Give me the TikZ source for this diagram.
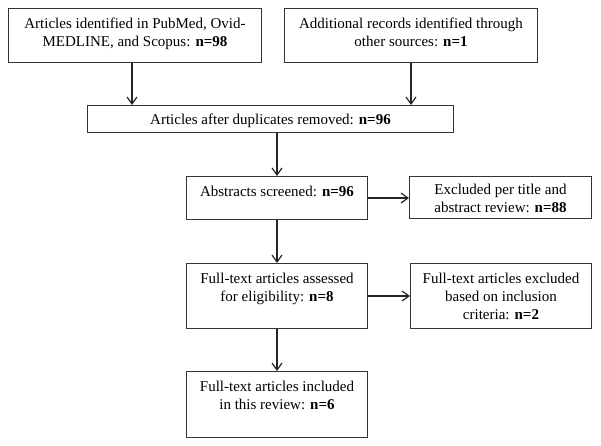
\documentclass[tikz,border=0pt]{standalone}
\usepackage{fontspec}
\setmainfont{Liberation Serif}
\usetikzlibrary{arrows.meta}
\begin{document}
\begin{tikzpicture}[x=1pt,y=-1pt,
  box/.style={draw=black!80, line width=1pt, anchor=north west, inner sep=0pt,
    text height=19.5pt, font=\fontsize{15}{18}\selectfont},
  arr/.style={-{Straight Barb[length=7pt,width=10pt]}, line width=1.2pt, draw=black!85}]
\useasboundingbox (0,0) rectangle (601,445);
\node[box, text depth=34.5pt] (b1) at (8,8)
  {\parbox[t]{253pt}{\centering Articles identified in PubMed, Ovid-\\MEDLINE, and Scopus: \textbf{n=98}}};
\node[box, text depth=34.5pt] (b2) at (284,8)
  {\parbox[t]{253pt}{\centering Additional records identified through\\other sources: \textbf{n=1}}};
\node[box, text height=18.5pt, text depth=8.5pt] (b3) at (87,105)
  {\parbox[t]{366pt}{\centering Articles after duplicates removed: \textbf{n=96}}};
\node[box, text depth=23.5pt] (b4) at (186,176)
  {\parbox[t]{181pt}{\centering Abstracts screened: \textbf{n=96}}};
\node[box, text height=18pt, text depth=24pt] (b5) at (409,176)
  {\parbox[t]{182pt}{\centering Excluded per title and\\abstract review: \textbf{n=88}}};
\node[box, text depth=45.5pt] (b6) at (186,263)
  {\parbox[t]{181pt}{\centering Full-text articles assessed\\for eligibility: \textbf{n=8}}};
\node[box, text depth=45.5pt] (b7) at (410,263)
  {\parbox[t]{181pt}{\centering Full-text articles excluded\\based on inclusion\\criteria: \textbf{n=2}}};
\node[box, text height=20pt, text depth=46pt] (b8) at (186,371)
  {\parbox[t]{181pt}{\centering Full-text articles included\\in this review: \textbf{n=6}}};
\draw[arr] ([xshift=-3pt]b1.south) -- ([xshift=-3pt]b1.south |- b3.north);
\draw[arr] (b2.south) -- (b2.south |- b3.north);
\draw[arr] (b4.north |- b3.south) -- (b4.north);
\draw[arr] (b4.east) -- (b5.west |- b4.east);
\draw[arr] (b4.south) -- (b6.north);
\draw[arr] (b6.east) -- (b7.west |- b6.east);
\draw[arr] (b6.south) -- (b8.north);
\end{tikzpicture}
\end{document}
